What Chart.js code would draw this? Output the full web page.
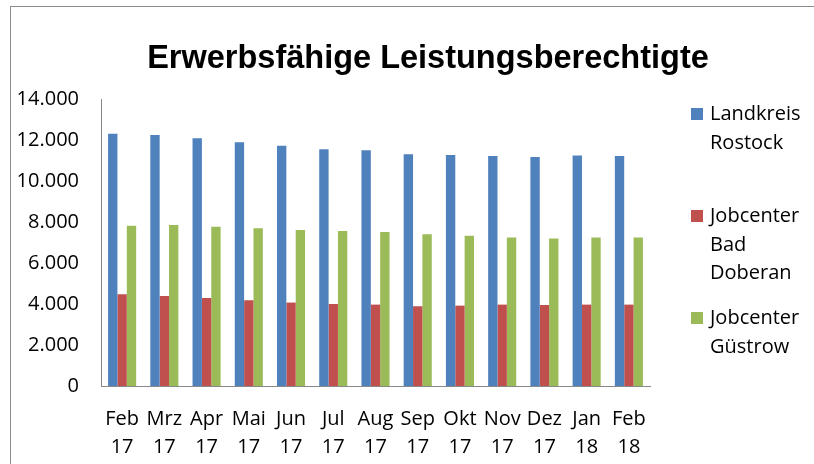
<!DOCTYPE html>
<html>
<head>
<meta charset="utf-8">
<script src="https://cdn.jsdelivr.net/npm/chart.js@4/dist/chart.umd.min.js"></script>
<style>
  html, body { margin: 0; padding: 0; background: #ffffff; }
  #c { display: block; }
</style>
</head>
<body>
<canvas id="c" width="814" height="464"></canvas>
<script>
// ---- data ----
const months = ["Feb", "Mrz", "Apr", "Mai", "Jun", "Jul", "Aug", "Sep", "Okt", "Nov", "Dez", "Jan", "Feb"];
const years  = ["17", "17", "17", "17", "17", "17", "17", "17", "17", "17", "17", "18", "18"];
const landkreisRostock   = [12300, 12250, 12080, 11890, 11720, 11550, 11500, 11300, 11270, 11220, 11170, 11250, 11220];
const jobcenterBadDoberan = [4470, 4390, 4290, 4180, 4070, 4000, 3970, 3890, 3920, 3970, 3950, 3970, 3970];
const jobcenterGuestrow  = [7820, 7850, 7770, 7690, 7610, 7560, 7510, 7400, 7330, 7240, 7200, 7240, 7240];
const seriesNames = [["Landkreis", "Rostock"], ["Jobcenter", "Bad", "Doberan"], ["Jobcenter", "Güstrow"]];
const seriesColors = ["#4F81BD", "#C0504D", "#9BBB59"];
const yTicks = [0, 2000, 4000, 6000, 8000, 10000, 12000, 14000];
const titleText = "Erwerbsfähige Leistungsberechtigte";

const labels = months.map((m, i) => [m, years[i]]);
const fmt = v => String(v).replace(/\B(?=(\d{3})+(?!\d))/g, ".");

const TXT = "'Open Sans', 'DejaVu Sans', sans-serif";

const decor = {
  id: "decor",
  beforeDraw(chart) {
    const ctx = chart.ctx;
    ctx.save();
    ctx.fillStyle = "#ffffff";
    ctx.fillRect(0, 0, chart.width, chart.height);
    ctx.strokeStyle = "#8c8c8c";
    ctx.lineWidth = 1;
    ctx.strokeRect(10.5, 6.5, chart.width + 20, chart.height + 20);
    ctx.restore();
  },
  afterDraw(chart) {
    const ctx = chart.ctx;
    ctx.save();
    // title
    ctx.fillStyle = "#000000";
    ctx.font = "bold 32.5px 'Liberation Sans', Arial, sans-serif";
    ctx.textAlign = "center";
    ctx.textBaseline = "alphabetic";
    ctx.fillText(titleText, 428, 68);
    // legend
    const firstBaselines = [120, 222, 324];
    const lineH = 28.5;
    ctx.font = "20px " + TXT;
    ctx.textAlign = "left";
    chart.data.datasets.forEach((ds, i) => {
      const b = firstBaselines[i];
      ctx.fillStyle = ds.backgroundColor;
      ctx.fillRect(691, b - 12, 12, 12);
      ctx.fillStyle = "#000000";
      seriesNames[i].forEach((line, j) => {
        ctx.fillText(line, 710, b + j * lineH);
      });
    });
    ctx.restore();
  }
};

new Chart(document.getElementById("c"), {
  type: "bar",
  data: {
    labels: labels,
    datasets: [
      { label: seriesNames[0].join(" "), data: landkreisRostock, backgroundColor: seriesColors[0] },
      { label: seriesNames[1].join(" "), data: jobcenterBadDoberan, backgroundColor: seriesColors[1] },
      { label: seriesNames[2].join(" "), data: jobcenterGuestrow, backgroundColor: seriesColors[2] }
    ]
  },
  options: {
    responsive: false,
    animation: false,
    devicePixelRatio: 1,
    layout: { padding: { left: 10, right: 164, top: 99, bottom: 0 } },
    datasets: { bar: { categoryPercentage: 0.665, barPercentage: 1.0 } },
    plugins: {
      legend: { display: false },
      title: { display: false },
      tooltip: { enabled: false }
    },
    scales: {
      x: {
        grid: { display: false },
        border: { display: true, color: "#888888", width: 1 },
        ticks: {
          color: "#000000",
          font: { family: TXT, size: 20, lineHeight: 1.4 },
          padding: 11,
          maxRotation: 0,
          autoSkip: false
        },
        afterFit(scale) { scale.height = 78; }
      },
      y: {
        min: 0,
        max: 14000,
        grid: { display: false },
        border: { display: true, color: "#888888", width: 1 },
        afterBuildTicks(scale) { scale.ticks = yTicks.map(v => ({ value: v })); },
        ticks: {
          color: "#000000",
          font: { family: TXT, size: 20 },
          padding: 14,
          callback: v => fmt(v)
        },
        afterFit(scale) { scale.width = 91; }
      }
    }
  },
  plugins: [decor]
});
</script>
</body>
</html>
